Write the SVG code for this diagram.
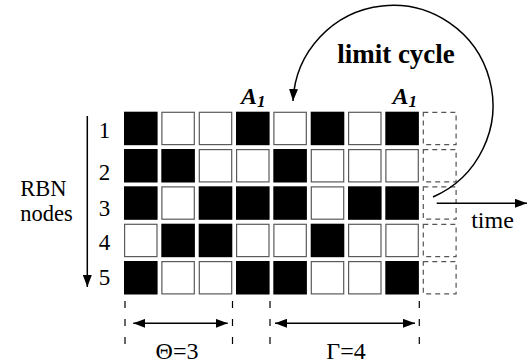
<svg xmlns="http://www.w3.org/2000/svg" width="527" height="364" viewBox="0 0 527 364">
<style>
.b{fill:#000;stroke:none}
.w{fill:#fff;stroke:#5a5a5a;stroke-width:1.2}
.d{fill:none;stroke:#555;stroke-width:1.2;stroke-dasharray:5,4}
.t{font-family:"Liberation Serif","Times New Roman",serif;font-size:24px;fill:#000}
.r{font-family:"Liberation Serif","Times New Roman",serif;font-size:22.5px;fill:#000;text-anchor:middle}
.n{font-family:"Liberation Serif","Times New Roman",serif;font-size:23px;fill:#000;text-anchor:middle}
.lc{font-family:"Liberation Serif","Times New Roman",serif;font-size:27px;font-weight:bold;fill:#000;text-anchor:middle}
.a{font-family:"Liberation Serif","Times New Roman",serif;font-size:24px;font-weight:bold;font-style:italic;fill:#000}
.ln{fill:none;stroke:#000;stroke-width:1.5}
.mk{fill:none;stroke:#000;stroke-width:1.2;stroke-dasharray:7,11}
</style>
<defs>
<marker id="ah" markerUnits="userSpaceOnUse" markerWidth="13" markerHeight="9" refX="12" refY="4.5" orient="auto-start-reverse"><path d="M0,0 L12,4.5 L0,9 z" fill="#000"/></marker>
</defs>
<g id="row1">
<rect class="b" x="124" y="111.7" width="33.6" height="33.5"/>
<rect class="w" x="161.9" y="112.3" width="32.4" height="32.3"/>
<rect class="w" x="199.3" y="112.3" width="32.4" height="32.3"/>
<rect class="b" x="236" y="111.7" width="33.6" height="33.5"/>
<rect class="w" x="273.9" y="112.3" width="32.4" height="32.3"/>
<rect class="b" x="310.7" y="111.7" width="33.6" height="33.5"/>
<rect class="w" x="348.6" y="112.3" width="32.4" height="32.3"/>
<rect class="b" x="385.3" y="111.7" width="33.6" height="33.5"/>
<rect class="d" x="423.3" y="112.3" width="32.8" height="32.3"/>
</g>
<g id="row2">
<rect class="b" x="124" y="149" width="33.6" height="33.5"/>
<rect class="b" x="161.3" y="149" width="33.6" height="33.5"/>
<rect class="w" x="199.3" y="149.6" width="32.4" height="32.3"/>
<rect class="w" x="236.6" y="149.6" width="32.4" height="32.3"/>
<rect class="b" x="273.3" y="149" width="33.6" height="33.5"/>
<rect class="w" x="311.3" y="149.6" width="32.4" height="32.3"/>
<rect class="w" x="348.6" y="149.6" width="32.4" height="32.3"/>
<rect class="w" x="385.9" y="149.6" width="32.4" height="32.3"/>
<rect class="d" x="423.3" y="149.6" width="32.8" height="32.3"/>
</g>
<g id="row3">
<rect class="b" x="124" y="186.3" width="33.6" height="33.5"/>
<rect class="w" x="161.9" y="186.9" width="32.4" height="32.3"/>
<rect class="b" x="198.7" y="186.3" width="33.6" height="33.5"/>
<rect class="b" x="236" y="186.3" width="33.6" height="33.5"/>
<rect class="b" x="273.3" y="186.3" width="33.6" height="33.5"/>
<rect class="w" x="311.3" y="186.9" width="32.4" height="32.3"/>
<rect class="b" x="348" y="186.3" width="33.6" height="33.5"/>
<rect class="b" x="385.3" y="186.3" width="33.6" height="33.5"/>
<rect class="d" x="423.3" y="186.9" width="32.8" height="32.3"/>
</g>
<g id="row4">
<rect class="w" x="124.6" y="224.3" width="32.4" height="32.3"/>
<rect class="b" x="161.3" y="223.7" width="33.6" height="33.5"/>
<rect class="b" x="198.7" y="223.7" width="33.6" height="33.5"/>
<rect class="w" x="236.6" y="224.3" width="32.4" height="32.3"/>
<rect class="w" x="273.9" y="224.3" width="32.4" height="32.3"/>
<rect class="b" x="310.7" y="223.7" width="33.6" height="33.5"/>
<rect class="w" x="348.6" y="224.3" width="32.4" height="32.3"/>
<rect class="w" x="385.9" y="224.3" width="32.4" height="32.3"/>
<rect class="d" x="423.3" y="224.3" width="32.8" height="32.3"/>
</g>
<g id="row5">
<rect class="b" x="124" y="261" width="33.6" height="33.5"/>
<rect class="w" x="161.9" y="261.6" width="32.4" height="32.3"/>
<rect class="w" x="199.3" y="261.6" width="32.4" height="32.3"/>
<rect class="b" x="236" y="261" width="33.6" height="33.5"/>
<rect class="b" x="273.3" y="261" width="33.6" height="33.5"/>
<rect class="w" x="311.3" y="261.6" width="32.4" height="32.3"/>
<rect class="w" x="348.6" y="261.6" width="32.4" height="32.3"/>
<rect class="b" x="385.3" y="261" width="33.6" height="33.5"/>
<rect class="d" x="423.3" y="261.6" width="32.8" height="32.3"/>
</g>
<g id="node-numbers">
<text class="n" x="104.5" y="137.5">1</text>
<text class="n" x="104.5" y="179.5">2</text>
<text class="n" x="104.5" y="216">3</text>
<text class="n" x="104.5" y="249.5">4</text>
<text class="n" x="104.5" y="284.5">5</text>
</g>
<g id="rbn-label">
<text class="r" x="43.5" y="196">RBN</text>
<text class="r" x="46.5" y="221">nodes</text>
</g>
<g id="time-label"><text class="t" x="492.5" y="228" text-anchor="middle">time</text></g>
<g id="limit-cycle-label"><text class="lc" x="396" y="62.5">limit cycle</text></g>
<g id="attractor-labels">
<text class="a" x="241" y="104">A<tspan font-size="17" dy="3">1</tspan></text>
<text class="a" x="392.5" y="104">A<tspan font-size="17" dy="3">1</tspan></text>
</g>
<g id="period-labels">
<text class="t" x="177" y="358.5" text-anchor="middle">Θ=3</text>
<text class="t" x="346" y="358.5" text-anchor="middle">Γ=4</text>
</g>
<g id="connectors">
<line class="ln" x1="87.3" y1="116" x2="87.3" y2="287" marker-end="url(#ah)"/>
<line class="ln" x1="436.7" y1="203.3" x2="527" y2="203.3" marker-end="url(#ah)"/>
<path class="ln" d="M433,197 A100,100 0 1 0 293.02,101" marker-end="url(#ah)"/>
<line class="ln" x1="133.3" y1="323.3" x2="227.7" y2="323.3" marker-start="url(#ah)" marker-end="url(#ah)"/>
<line class="ln" x1="275" y1="323.3" x2="415" y2="323.3" marker-start="url(#ah)" marker-end="url(#ah)"/>
<line class="mk" x1="125" y1="301" x2="125" y2="344"/>
<line class="mk" x1="232.5" y1="301" x2="232.5" y2="344"/>
<line class="mk" x1="270" y1="301" x2="270" y2="344"/>
<line class="mk" x1="419.3" y1="301" x2="419.3" y2="344"/>
</g>
</svg>
